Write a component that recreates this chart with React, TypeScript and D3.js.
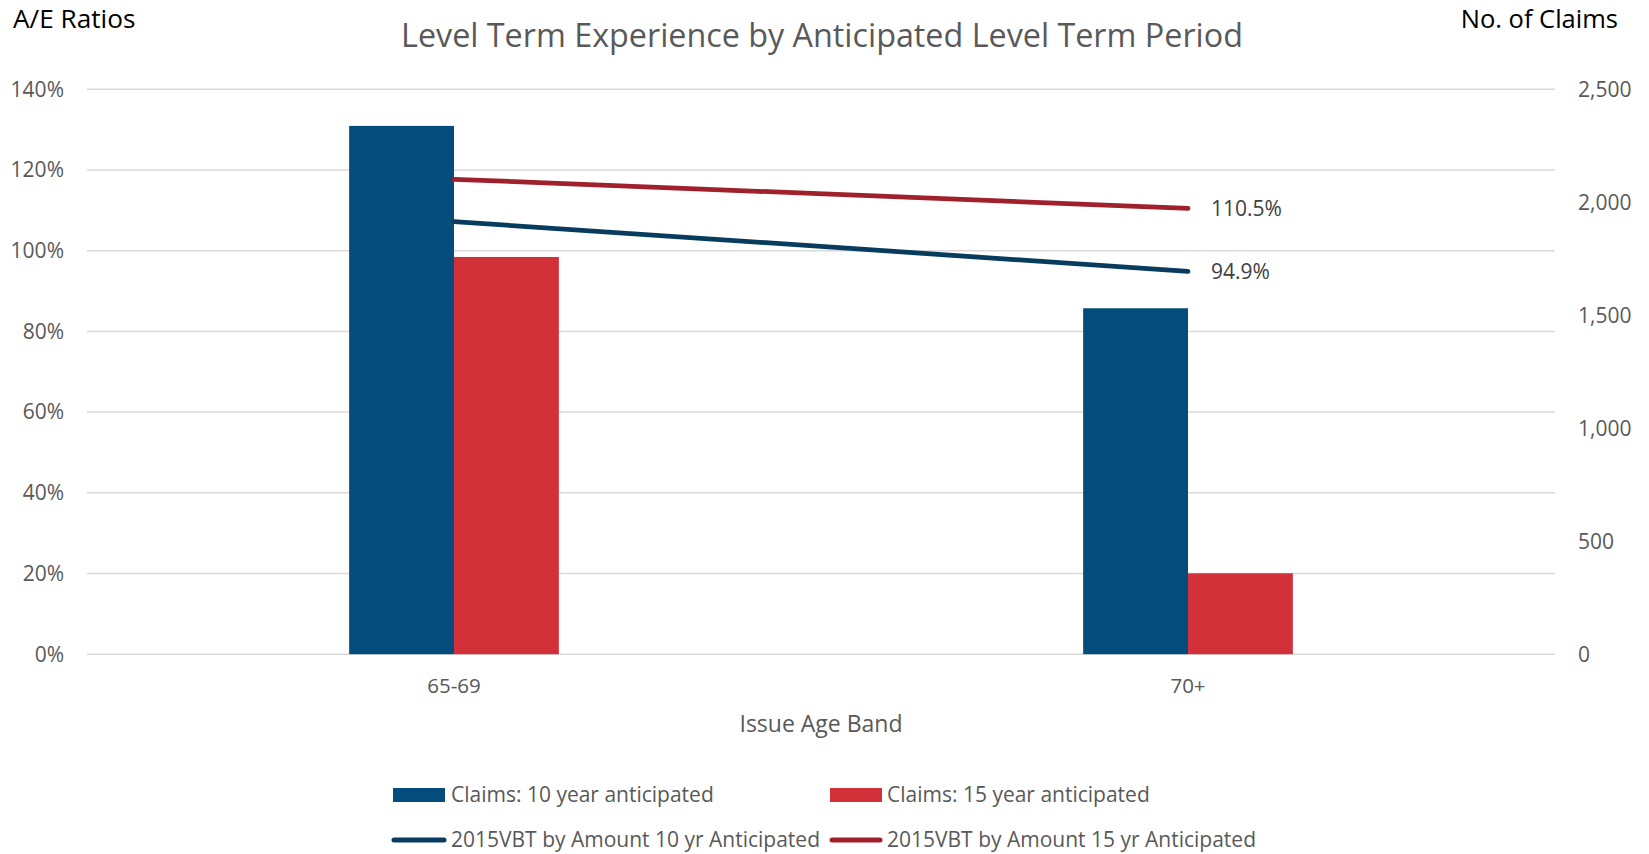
import React from "react";
import * as d3 from "d3";

const categories = ["65-69", "70+"];
const claims10 = [2338, 1531];
const claims15 = [1758, 358];
const ae10 = [1.072, 0.949];
const ae15 = [1.177, 1.105];
const leftTicks = [0, 0.2, 0.4, 0.6, 0.8, 1.0, 1.2, 1.4];
const rightTicks = [0, 500, 1000, 1500, 2000, 2500];

const W = 1649;
const H = 854;
const FONT = "'Open Sans', 'Noto Sans', sans-serif";

const C_BAR10 = "#044c7b";
const C_BAR15 = "#d23139";
const C_LINE10 = "#083c5f";
const C_LINE15 = "#a0212b";

export default function App() {
  const left = 87, right = 1555, top = 89.3, bottom = 654.2;
  const x = d3.scaleBand<string>().domain(categories).range([left, right]).paddingInner(0).paddingOuter(0);
  const yL = d3.scaleLinear().domain([0, 1.4]).range([bottom, top]);
  const yR = d3.scaleLinear().domain([0, 2500]).range([bottom, top]);
  const barW = x.bandwidth() / 7;
  const cx = (c: string) => (x(c) as number) + x.bandwidth() / 2;
  const line = d3.line<[number, number]>().x(d => d[0]).y(d => d[1]);
  const pct = d3.format(".1%");
  const num = d3.format(",");

  const series10 = categories.map((c, i) => [cx(c), yL(ae10[i])] as [number, number]);
  const series15 = categories.map((c, i) => [cx(c), yL(ae15[i])] as [number, number]);

  return (
    <svg width={W} height={H} style={{ position: "absolute", left: 0, top: 0, display: "block", background: "#fff" }} fontFamily={FONT}>
      {/* gridlines */}
      {leftTicks.map(t => (
        <line key={t} x1={left} x2={right} y1={yL(t)} y2={yL(t)} stroke="#d9d9d9" strokeWidth={1.5} />
      ))}
      {/* bars */}
      {categories.map((c, i) => (
        <g key={c}>
          <rect x={cx(c) - barW} y={yR(claims10[i])} width={barW} height={bottom - yR(claims10[i])} fill={C_BAR10} />
          <rect x={cx(c)} y={yR(claims15[i])} width={barW} height={bottom - yR(claims15[i])} fill={C_BAR15} />
        </g>
      ))}
      {/* lines */}
      <path d={line(series15) as string} fill="none" stroke={C_LINE15} strokeWidth={4.75} strokeLinecap="round" />
      <path d={line(series10) as string} fill="none" stroke={C_LINE10} strokeWidth={4.75} strokeLinecap="round" />
      {/* data labels at last point */}
      <text x={series15[1][0] + 23} y={series15[1][1]} dy="0.35em" fontSize={21} fill="#404040">{pct(ae15[1])}</text>
      <text x={series10[1][0] + 23} y={series10[1][1]} dy="0.35em" fontSize={21} fill="#404040">{pct(ae10[1])}</text>
      {/* left axis labels */}
      {leftTicks.map(t => (
        <text key={t} x={64} y={yL(t)} dy="0.35em" textAnchor="end" fontSize={21} fill="#595959">{d3.format(".0%")(t)}</text>
      ))}
      {/* right axis labels */}
      {rightTicks.map(t => (
        <text key={t} x={1578} y={yR(t)} dy="0.35em" textAnchor="start" fontSize={21} fill="#595959">{num(t)}</text>
      ))}
      {/* category labels */}
      {categories.map(c => (
        <text key={c} x={cx(c)} y={693} textAnchor="middle" fontSize={20.5} fill="#595959">{c}</text>
      ))}
      <text x={821} y={732} textAnchor="middle" fontSize={23} fill="#595959">Issue Age Band</text>
      {/* titles */}
      <text x={822} y={47} textAnchor="middle" fontSize={32.3} fill="#595959">Level Term Experience by Anticipated Level Term Period</text>
      <text x={13} y={28} fontSize={26.2} fill="#000">A/E Ratios</text>
      <text x={1618} y={28} textAnchor="end" fontSize={25.5} fill="#000">No. of Claims</text>
      {/* legend */}
      <g fontSize={21} fill="#595959">
        <rect x={393} y={788} width={52} height={14} fill={C_BAR10} />
        <text x={451} y={795} dy="0.35em">Claims: 10 year anticipated</text>
        <rect x={830} y={788} width={52} height={14} fill={C_BAR15} />
        <text x={887} y={795} dy="0.35em">Claims: 15 year anticipated</text>
        <line x1={394} x2={444} y1={840} y2={840} stroke={C_LINE10} strokeWidth={5} strokeLinecap="round" />
        <text x={451} y={840} dy="0.35em">2015VBT by Amount 10 yr Anticipated</text>
        <line x1={832} x2={880} y1={840} y2={840} stroke={C_LINE15} strokeWidth={5} strokeLinecap="round" />
        <text x={887} y={840} dy="0.35em">2015VBT by Amount 15 yr Anticipated</text>
      </g>
    </svg>
  );
}
